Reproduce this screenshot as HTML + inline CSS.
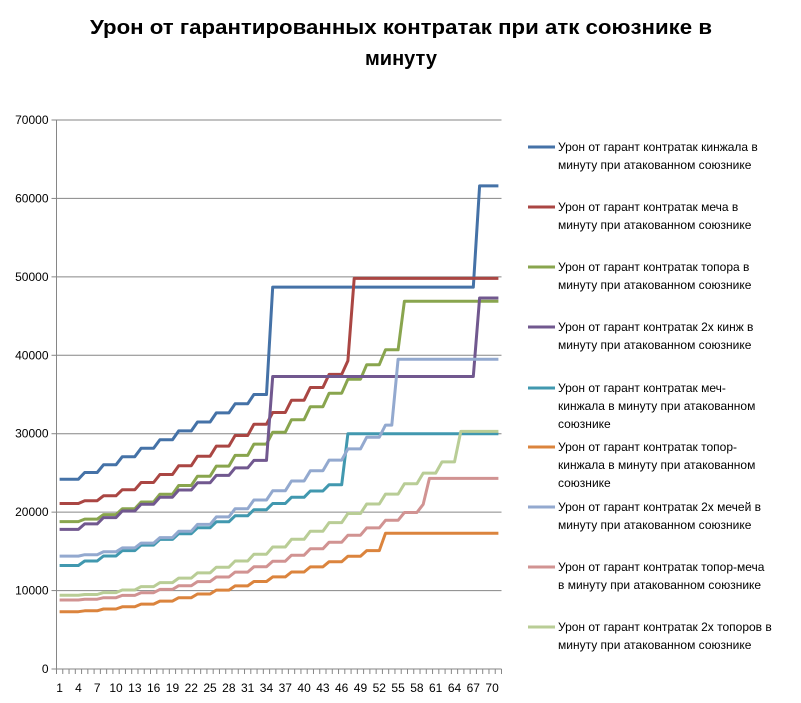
<!DOCTYPE html>
<html><head><meta charset="utf-8"><style>
html,body{margin:0;padding:0;background:#fff;}
svg{display:block;font-family:"Liberation Sans","DejaVu Sans",sans-serif;}
</style></head><body>
<svg id="s" width="801" height="703" viewBox="0 0 801 703" xmlns="http://www.w3.org/2000/svg">
<rect width="801" height="703" fill="#fff"/>
<text x="401" y="34" text-anchor="middle" font-size="20" font-weight="bold" textLength="622" lengthAdjust="spacingAndGlyphs">Урон от гарантированных контратак при атк союзнике в</text>
<text x="401" y="65" text-anchor="middle" font-size="20" font-weight="bold">минуту</text>
<g id="grid"></g>
<g id="series" fill="none" stroke-width="3" stroke-linejoin="round"></g>
<g id="legend" font-size="12" fill="#000"></g>
</svg>
<script>
var NS="http://www.w3.org/2000/svg";
function el(t,a,p,txt){var e=document.createElementNS(NS,t);for(var k in a)e.setAttribute(k,a[k]);if(txt!=null)e.textContent=txt;p.appendChild(e);return e;}
var g=document.getElementById('grid');
var L=56.5,R=501.5,T=120,B=669,N=71,cw=(R-L)/N;
function Y(v){return B-(v/70000)*(B-T);}
function X(i){return L+(i-0.5)*cw;}
for(var v=0;v<=70000;v+=10000){
  var y=Y(v);
  if(v>0)el('line',{x1:L,x2:R,y1:y,y2:y,stroke:'#868686','stroke-width':1},g);
  el('line',{x1:L-5,x2:L,y1:y,y2:y,stroke:'#868686','stroke-width':1},g);
  el('text',{x:L-8,y:y+4,'text-anchor':'end','font-size':'12',fill:'#000'},g,String(v));
}
el('line',{x1:L,x2:L,y1:T,y2:B,stroke:'#868686','stroke-width':1},g);
el('line',{x1:L,x2:R,y1:B,y2:B,stroke:'#868686','stroke-width':1},g);
for(var i=0;i<=N;i++){var x=L+i*cw;el('line',{x1:x,x2:x,y1:B,y2:B+5,stroke:'#868686','stroke-width':1},g);}
for(var i=1;i<=70;i+=3){el('text',{x:X(i),y:692,'text-anchor':'middle','font-size':'12',fill:'#000'},g,String(i));}
// color,start,endBeforeJump,lastIdxBeforeJump,jumps,power
var S=[
['#4572a7',24200,35000,34,[[35,48700],[68,61600]],1.1],
['#aa4643',21100,39300,47,[[48,49800]],1.45],
['#89a54e',18800,40700,55,[[56,46900]],1.5],
['#71588f',17800,26600,34,[[35,37300],[68,47300]],1.1],
['#4198af',13200,23500,46,[[47,30000]],1.1],
['#db843d',7300,15100,52,[[53,17300]],1.5],
['#93a9cf',14400,31100,54,[[55,39500]],1.6],
['#d19392',8800,21000,59,[[60,24300]],1.65],
['#b9cd96',9400,26400,64,[[65,30300]],1.7]
];
var sg=document.getElementById('series');
S.forEach(function(s){
  var pts=[],K=Math.max(1,Math.floor((s[3]-2)/3));
  for(var i=1;i<=N;i++){
    var v;
    if(i<=s[3]){var k=Math.max(0,Math.floor((i-2)/3));if(i==s[3])k=K;v=s[1]+(s[2]-s[1])*Math.pow(Math.min(1,k/K),s[5]);}
    else{v=s[4][0][1];for(var j=0;j<s[4].length;j++)if(i>=s[4][j][0])v=s[4][j][1];}
    pts.push(X(i).toFixed(1)+','+Y(v).toFixed(1));
  }
  el('polyline',{points:pts.join(' '),stroke:s[0]},sg);
});
var lg=document.getElementById('legend');
var LT=[
[147,['Урон от гарант контратак кинжала в','минуту при атакованном союзнике']],
[207,['Урон от гарант контратак меча в','минуту при атакованном союзнике']],
[267,['Урон от гарант контратак топора в','минуту при атакованном союзнике']],
[327,['Урон от гарант контратак 2х кинж в','минуту при атакованном союзнике']],
[388,['Урон от гарант контратак меч-','кинжала в минуту при атакованном','союзнике']],
[447,['Урон от гарант контратак топор-','кинжала в минуту при атакованном','союзнике']],
[507,['Урон от гарант контратак 2х мечей в','минуту при атакованном союзнике']],
[567,['Урон от гарант контратак топор-меча','в минуту при атакованном союзнике']],
[627,['Урон от гарант контратак 2х топоров в','минуту при атакованном союзнике']]
];
LT.forEach(function(e,idx){
  el('line',{x1:528,x2:555,y1:e[0],y2:e[0],stroke:S[idx][0],'stroke-width':3},lg);
  e[1].forEach(function(t,j){el('text',{x:558,y:e[0]+4+j*18},lg,t);});
});
</script>
</body></html>
